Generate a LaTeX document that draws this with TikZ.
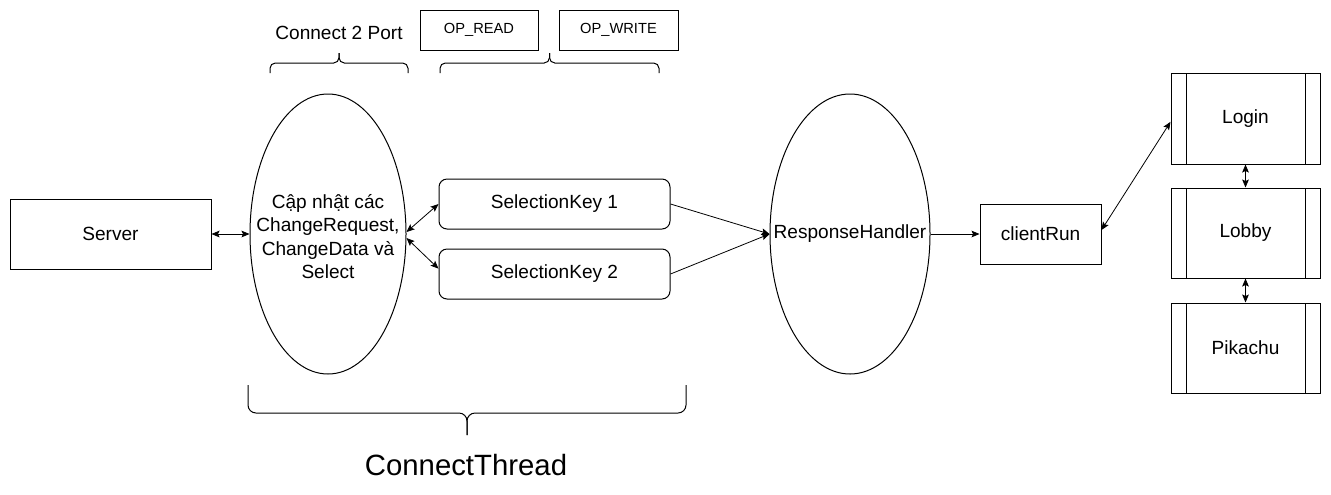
\documentclass[tikz,border=0pt]{standalone}
\usepackage{fontspec}
\setmainfont{Liberation Sans}
\usetikzlibrary{shapes.geometric,arrows.meta}
\begin{document}
\begin{tikzpicture}[x=0.75pt,y=-0.75pt,
  txt/.style={font=\fontsize{14.3}{17.5}\selectfont},
  box/.style={draw,line width=0.75pt,inner sep=0pt,txt},
  ell/.style={draw,ellipse,line width=0.75pt,inner sep=0pt},
  proc/.style={box,path picture={
    \draw[line width=0.75pt] ([xshift=11.25pt]path picture bounding box.north west) -- ([xshift=11.25pt]path picture bounding box.south west);
    \draw[line width=0.75pt] ([xshift=-11.25pt]path picture bounding box.north east) -- ([xshift=-11.25pt]path picture bounding box.south east);}},
  tip/.tip={Stealth[length=6pt,width=5pt,inset=1.2pt]},
  conn/.style={line width=0.6pt,-tip},
  dconn/.style={line width=0.6pt,tip-tip},
  brace/.style={line width=0.75pt,rounded corners=4pt},
]
\useasboundingbox (0,0) rectangle (1331,494);

% nodes
\node[box,minimum width={201*0.75pt},minimum height={70*0.75pt}] (server) at (110.5,234) {Server};
\node[ell,minimum width={156*0.75pt},minimum height={280*0.75pt},
  label={[txt,align=center,yshift=-2pt]center:Cập nhật các\\ChangeRequest,\\ChangeData và\\Select}] (cap) at (328,234) {};
\node[box,rounded corners=6pt,minimum width={231*0.75pt},minimum height={50*0.75pt}] (sk1) at (554.5,204) {SelectionKey 1};
\node[box,rounded corners=6pt,minimum width={231*0.75pt},minimum height={50*0.75pt}] (sk2) at (554.5,274) {SelectionKey 2};
\node[ell,minimum width={160*0.75pt},minimum height={280*0.75pt},
  label={[txt]center:ResponseHandler}] (rh) at (850,234) {};
\node[box,minimum width={121*0.75pt},minimum height={60*0.75pt}] (client) at (1040.5,234) {clientRun};
\node[proc,minimum width={149*0.75pt},minimum height={91*0.75pt}] (login) at (1245.5,118.5) {Login};
\node[proc,minimum width={149*0.75pt},minimum height={90*0.75pt}] (lobby) at (1245.5,233) {Lobby};
\node[proc,minimum width={149*0.75pt},minimum height={90*0.75pt}] (pika) at (1245.5,348) {Pikachu};

\node[txt] (c2p) at (339,33) {Connect 2 Port};
\node[box,font=\fontsize{11}{13}\selectfont,minimum width={118*0.75pt},minimum height={40*0.75pt}] (opr) at (479,30) {OP\_READ};
\node[box,font=\fontsize{11}{13}\selectfont,minimum width={119*0.75pt},minimum height={40*0.75pt}] (opw) at (618.5,30) {OP\_WRITE};
\node[font=\fontsize{22}{26}\selectfont] (ct) at (466,465) {ConnectThread};

% connectors
\draw[dconn] (server.east) -- (cap.west);
\draw[dconn] ([yshift=1.5pt]cap.east) -- (sk1.west);
\draw[dconn] ([yshift=-3pt]cap.east) -- ([yshift=4pt]sk2.west);
\draw[conn] (sk1.east) -- (rh.west);
\draw[conn] (sk2.east) -- (rh.west);
\draw[conn] (rh.east) -- (client.west);
\draw[dconn] ([yshift=3pt]client.east) -- ([yshift=-2.5pt]login.west);
\draw[dconn] (login.south) -- (lobby.north);
\draw[dconn] (lobby.south) -- (pika.north);

% braces
\draw[brace] (270,73) -- (270,63) -- (339,63) -- (339,53);
\draw[brace] (408,73) -- (408,63) -- (339,63) -- (339,53);
\draw[brace] (440,73) -- (440,63) -- (549.5,63) -- (549.5,53);
\draw[brace] (659,73) -- (659,63) -- (549.5,63) -- (549.5,53);
\draw[brace,rounded corners=6pt] (248,385) -- (248,413) -- (467,413) -- (467,435);
\draw[brace,rounded corners=6pt] (686,385) -- (686,413) -- (467,413) -- (467,435);
\end{tikzpicture}
\end{document}
